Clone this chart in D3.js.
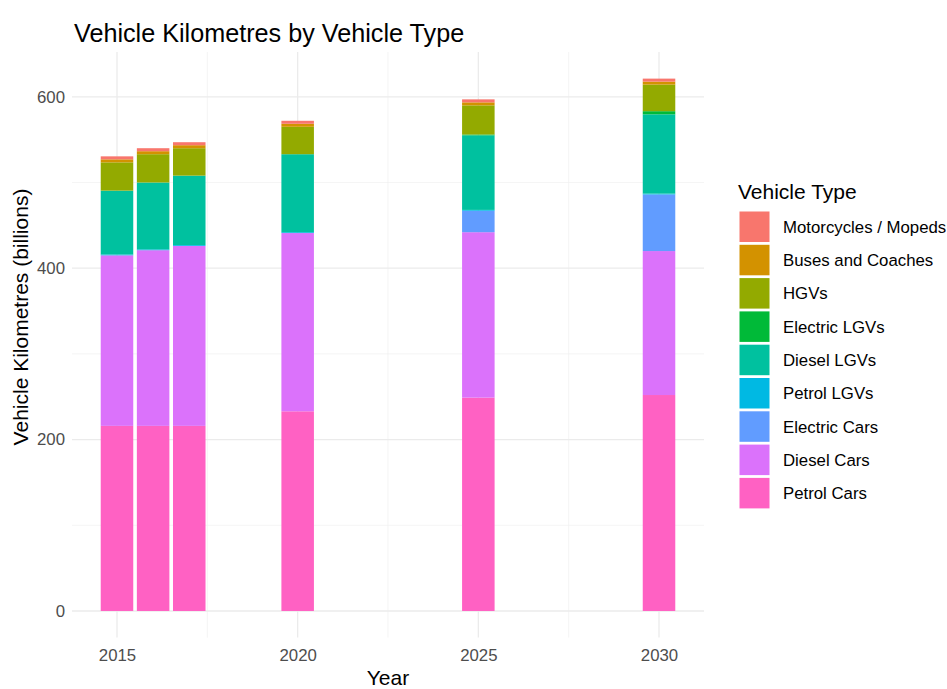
<!DOCTYPE html>
<html>
<head>
<meta charset="utf-8">
<script src="https://cdn.jsdelivr.net/npm/d3@7"></script>
<style>
  body { margin: 0; background: #fff; }
  text { font-family: "Liberation Sans", Arial, Helvetica, sans-serif; }
</style>
</head>
<body>
<svg id="chart" width="947" height="689"></svg>
<script>
// ---- Data (billions of vehicle km) ----
const years = [2015, 2016, 2017, 2020, 2025, 2030];
const vehicleTypes = ["Motorcycles / Mopeds", "Buses and Coaches", "HGVs", "Electric LGVs",
  "Diesel LGVs", "Petrol LGVs", "Electric Cars", "Diesel Cars", "Petrol Cars"];
const petrolCars   = [216, 216, 216, 233, 249, 252];
const dieselCars   = [199, 205, 210, 208, 193, 168];
const electricCars = [0, 0, 0, 0, 25, 66];
const petrolLGVs   = [1, 1, 1, 1, 1, 1];
const dieselLGVs   = [74.5, 78, 81, 91, 87, 92.5];
const electricLGVs = [0, 0, 0, 0, 1, 3.7];
const hgvs         = [33, 33, 32, 32, 34, 31];
const buses        = [3.5, 3.5, 3.5, 3.5, 3.5, 3.5];
const motorcycles  = [3.5, 3.5, 3.5, 3.5, 3.5, 3.5];
const yTicks = [0, 200, 400, 600];
const xTicks = [2015, 2020, 2025, 2030];

const seriesValues = {
  "Motorcycles / Mopeds": motorcycles,
  "Buses and Coaches": buses,
  "HGVs": hgvs,
  "Electric LGVs": electricLGVs,
  "Diesel LGVs": dieselLGVs,
  "Petrol LGVs": petrolLGVs,
  "Electric Cars": electricCars,
  "Diesel Cars": dieselCars,
  "Petrol Cars": petrolCars
};
const colors = ["#F8766D", "#D39200", "#93AA00", "#00BA38", "#00C19F", "#00B9E3", "#619CFF", "#DB72FB", "#FF61C3"];

// table for stacking
const table = years.map((yr, i) => {
  const row = { year: yr };
  vehicleTypes.forEach(t => row[t] = seriesValues[t][i]);
  return row;
});
// stack bottom-up: Petrol Cars first (bottom), Motorcycles last (top)
const stackOrder = vehicleTypes.slice().reverse();
const stacked = d3.stack().keys(stackOrder)(table);

const color = d3.scaleOrdinal().domain(vehicleTypes).range(colors);

const svg = d3.select("#chart");
const panel = { left: 72, right: 704, top: 52, bottom: 637.6 };

const barW = 0.9;
const xmin = d3.min(years) - barW / 2, xmax = d3.max(years) + barW / 2;
const xexp = (xmax - xmin) * 0.05;
const x = d3.scaleLinear().domain([xmin - xexp, xmax + xexp]).range([panel.left, panel.right]);

const ymaxData = d3.max(stacked[stacked.length - 1], d => d[1]);
const yexp = ymaxData * 0.05;
const y = d3.scaleLinear().domain([-yexp, ymaxData + yexp]).range([panel.bottom, panel.top]);

// gridlines
const g = svg.append("g");
const yMinor = [100, 300, 500];
const xMinor = [2017.5, 2022.5, 2027.5];
g.selectAll(".ymin").data(yMinor).join("line")
  .attr("x1", panel.left).attr("x2", panel.right)
  .attr("y1", d => y(d)).attr("y2", d => y(d))
  .attr("stroke", "#efefef").attr("stroke-width", 0.7);
g.selectAll(".xmin").data(xMinor).join("line")
  .attr("y1", panel.top).attr("y2", panel.bottom)
  .attr("x1", d => x(d)).attr("x2", d => x(d))
  .attr("stroke", "#efefef").attr("stroke-width", 0.7);
g.selectAll(".ymaj").data(yTicks).join("line")
  .attr("x1", panel.left).attr("x2", panel.right)
  .attr("y1", d => y(d)).attr("y2", d => y(d))
  .attr("stroke", "#ebebeb").attr("stroke-width", 1.3);
g.selectAll(".xmaj").data(xTicks).join("line")
  .attr("y1", panel.top).attr("y2", panel.bottom)
  .attr("x1", d => x(d)).attr("x2", d => x(d))
  .attr("stroke", "#ebebeb").attr("stroke-width", 1.3);

// bars
svg.append("g").selectAll("g").data(stacked).join("g")
  .attr("fill", d => color(d.key))
  .selectAll("rect").data(d => d).join("rect")
  .attr("x", d => x(d.data.year - barW / 2))
  .attr("width", d => x(d.data.year + barW / 2) - x(d.data.year - barW / 2))
  .attr("y", d => y(d[1]))
  .attr("height", d => Math.max(0, y(d[0]) - y(d[1])));

const tickFont = 16.8, titleFont = 21;

// axes (no lines, labels only)
const xAxis = d3.axisBottom(x).tickValues(xTicks).tickFormat(d3.format("d")).tickSize(0).tickPadding(0);
const xa = svg.append("g").attr("transform", `translate(0,${panel.bottom + 11})`).call(xAxis);
xa.select(".domain").remove();
xa.selectAll("text").attr("fill", "#4d4d4d").attr("font-size", tickFont).attr("dy", "0.71em")
  .style("font-family", '"Liberation Sans", Arial, sans-serif');

const yAxis = d3.axisLeft(y).tickValues(yTicks).tickSize(0).tickPadding(0);
const ya = svg.append("g").attr("transform", `translate(${panel.left - 7},0)`).call(yAxis);
ya.select(".domain").remove();
ya.selectAll("text").attr("fill", "#4d4d4d").attr("font-size", tickFont)
  .style("font-family", '"Liberation Sans", Arial, sans-serif');

// titles
svg.append("text").attr("x", 74).attr("y", 42).attr("font-size", 25.2).attr("fill", "#000")
  .text("Vehicle Kilometres by Vehicle Type");
svg.append("text").attr("x", (panel.left + panel.right) / 2).attr("y", 685)
  .attr("text-anchor", "middle").attr("font-size", titleFont).attr("fill", "#000").text("Year");
svg.append("text").attr("transform", `translate(28,317) rotate(-90)`)
  .attr("text-anchor", "middle").attr("font-size", titleFont).attr("fill", "#000")
  .text("Vehicle Kilometres (billions)");

// legend
const lg = svg.append("g").attr("transform", "translate(738,0)");
lg.append("text").attr("x", 0).attr("y", 199).attr("font-size", titleFont).attr("fill", "#000").text("Vehicle Type");
const keyH = 33.3;
const items = lg.selectAll(".item").data(vehicleTypes).join("g")
  .attr("transform", (d, i) => `translate(0,${211 + i * keyH})`);
items.append("rect").attr("x", 1.5).attr("y", 0.5).attr("width", 30).attr("height", 30.5)
  .attr("fill", d => color(d));
items.append("text").attr("x", 45).attr("y", 16).attr("dy", "0.35em")
  .attr("font-size", tickFont).attr("fill", "#000").text(d => d);
</script>
</body>
</html>
